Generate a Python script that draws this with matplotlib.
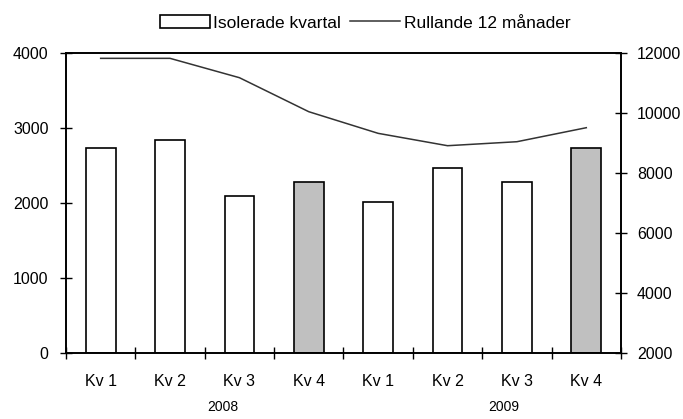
import numpy as np
import matplotlib
matplotlib.use("Agg")
import matplotlib.pyplot as plt
from matplotlib.patches import Patch
from matplotlib.lines import Line2D

plt.rcParams["font.family"] = ["Liberation Sans", "DejaVu Sans"]
plt.rcParams["font.size"] = 11.5

quarters = ["Kv 1", "Kv 2", "Kv 3", "Kv 4", "Kv 1", "Kv 2", "Kv 3", "Kv 4"]
years = ["2008", "2009"]
isolated = [2737, 2840, 2097, 2284, 2018, 2471, 2284, 2736]
rolling = [11822, 11822, 11177, 10043, 9322, 8910, 9043, 9510]
highlight = [False, False, False, True, False, False, False, True]

fig = plt.figure(figsize=(6.83, 4.19), dpi=100)
ax = fig.add_axes([0.0966, 0.1575, 0.8126, 0.716])
ax2 = ax.twinx()

x = np.arange(len(quarters))
colors = ["#c0c0c0" if h else "white" for h in highlight]
ax.bar(x, isolated, width=0.43, color=colors, edgecolor="black", linewidth=1.2, zorder=2)
ax2.plot(x, rolling, color="#333333", linewidth=1.1)

ax.set_xlim(-0.5, len(quarters) - 0.5)
ax.set_ylim(0, 4000)
ax.set_yticks([0, 1000, 2000, 3000, 4000])
ax2.set_ylim(2000, 12000)
ax2.set_yticks([2000, 4000, 6000, 8000, 10000, 12000])

ax.set_xticks(np.arange(len(quarters) + 1) - 0.5)
ax.set_xticklabels([])
ax.set_xticks(x, minor=True)
ax.set_xticklabels(quarters, minor=True)
ax.tick_params(axis="x", which="minor", length=0, pad=15)
ax.tick_params(axis="x", which="major", direction="inout", length=9, width=1)
ax.tick_params(axis="y", direction="inout", length=9, width=1, pad=8)
ax2.tick_params(axis="y", direction="inout", length=9, width=1, pad=7)

for a in (ax, ax2):
    for s in a.spines.values():
        s.set_linewidth(1.2)

fig.text(222.5 / 683, 1 - 407 / 419, years[0], ha="center", va="center", fontsize=10)
fig.text(504 / 683, 1 - 407 / 419, years[1], ha="center", va="center", fontsize=10)

handles = [Patch(facecolor="white", edgecolor="black", linewidth=1.2),
           Line2D([0], [0], color="#333333", linewidth=1.1)]
fig.legend(handles, ["Isolerade kvartal", "Rullande 12 månader"],
           loc="center", bbox_to_anchor=(365 / 683, 1 - 23 / 419), ncol=2,
           frameon=False, fontsize=12.5, handlelength=2.9, handletextpad=0.2,
           columnspacing=0.5, handleheight=0.7, borderpad=0)

fig.savefig("out.png", dpi=100)
